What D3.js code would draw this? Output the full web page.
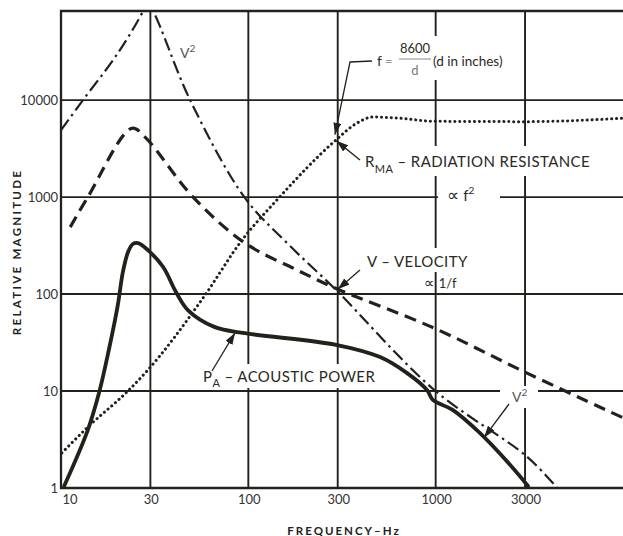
<!DOCTYPE html>
<html><head><meta charset="utf-8">
<script src="https://cdn.jsdelivr.net/npm/d3@7"></script>
<style>html,body{margin:0;padding:0;background:#fff;} svg{display:block;}</style>
</head><body><svg id="c" width="623" height="536"></svg>
<script>
// ---- data ----
const xTicks = [10, 30, 100, 300, 1000, 3000];
const xTickLabels = ["10", "30", "100", "300", "1000", "3000"];
const yTicks = [1, 10, 100, 1000, 10000];
const yTickLabels = ["1", "10", "100", "1000", "10000"];

// V^2 (dash-dot)
const v2Freq = [10, 13.1, 20, 27.4, 28.5, 31.0, 48.9, 95.9, 161, 294, 980, 3076, 4450];
const v2Val  = [4900, 10000, 30000, 82800, 103000, 82800, 10000, 980, 336, 110, 10.3, 2.1, 1];
// V - velocity (dashed)
const vFreq = [11.2, 13.9, 23.9, 28.1, 50.7, 95.9, 182, 298, 980, 3076, 10000];
const vVal  = [490, 1000, 5130, 4150, 1000, 336, 177, 113, 44.6, 15.3, 5.3];
// R_MA - radiation resistance (dotted)
const rFreq = [10.1, 13.9, 22.5, 28.1, 57.3, 92.6, 142, 293, 380, 463, 646, 980, 3110, 10000];
const rVal  = [2.3, 4.25, 9.8, 15.3, 91, 361, 933, 3860, 5800, 6700, 6500, 6050, 6000, 6500];
// P_A - acoustic power (solid)
const pFreq = [10.4, 13.9, 16.0, 18.0, 20.1, 21.4, 22.8, 24.2, 25.8, 29.1, 35.1, 41.1, 47.7, 66.3, 95.9, 298, 505, 704, 901, 966, 1232, 1720, 2500, 3110];
const pVal  = [1.05, 3.96, 9.75, 26.5, 77, 169, 271, 328, 335, 284, 190, 105, 68, 45.6, 39.5, 29.8, 22.4, 15.3, 10.2, 8.1, 6.4, 3.7, 1.73, 1.05];

// ---- layout ----
const mLeft = 61, mRight = 623, mTop = 11, mBottom = 488;
const svg = d3.select("#c");
const x = d3.scaleLog().domain([10, 10000]).range([mLeft, mRight]);
const y = d3.scaleLog().domain([1, 83000]).range([mBottom, mTop]);
const ink = "#22221c";
const font = "Lato, 'Open Sans', sans-serif";

const defs = svg.append("defs");
defs.append("clipPath").attr("id", "plot").append("rect")
  .attr("x", mLeft - 4).attr("y", mTop).attr("width", mRight - mLeft + 4).attr("height", mBottom - mTop + 3);
defs.append("marker").attr("id", "arr").attr("viewBox", "0 0 12 8")
  .attr("refX", 12).attr("refY", 4).attr("markerWidth", 12).attr("markerHeight", 8)
  .attr("markerUnits", "userSpaceOnUse").attr("orient", "auto")
  .append("path").attr("d", "M0,0 L12,4 L0,8 Z").attr("fill", ink);

// gridlines
const g = svg.append("g").attr("stroke", ink).attr("stroke-width", 1.9);
g.selectAll("line.v").data(xTicks.slice(1)).join("line")
  .attr("x1", d => x(d)).attr("x2", d => x(d)).attr("y1", mTop).attr("y2", mBottom);
g.selectAll("line.h").data(yTicks.slice(1)).join("line")
  .attr("x1", mLeft).attr("x2", mRight).attr("y1", d => y(d)).attr("y2", d => y(d));
// frame
svg.append("path").attr("d", `M${mRight},${mTop} H${mLeft} V${mBottom} H${mRight}`)
  .attr("fill", "none").attr("stroke", ink).attr("stroke-width", 2.3);

// white masks behind annotation text (gaps in grid)
const masks = [
  [372, 36, 152, 44],
  [362, 146, 230, 30],
  [438, 187, 62, 20],
  [364, 248, 106, 24],
  [200, 364, 180, 24],
  [500, 386, 38, 22]
];
svg.append("g").selectAll("rect").data(masks).join("rect")
  .attr("x", d => d[0]).attr("y", d => d[1]).attr("width", d => d[2]).attr("height", d => d[3])
  .attr("fill", "#fff");

// curves
const plot = svg.append("g").attr("clip-path", "url(#plot)");
function draw(fr, vals, curve, attrs) {
  const pts = fr.map((f, i) => [x(f), y(vals[i])]);
  const p = plot.append("path").attr("d", d3.line().curve(curve)(pts)).attr("fill", "none")
    .attr("stroke", ink).attr("stroke-linejoin", "round");
  Object.entries(attrs).forEach(([k, v]) => p.attr(k, v));
}
draw(rFreq, rVal, d3.curveMonotoneX, {"stroke-width": 3, "stroke-dasharray": "0.1 4.8", "stroke-linecap": "round"});
draw(v2Freq, v2Val, d3.curveCatmullRom.alpha(0.5), {"stroke-width": 2.2, "stroke-dasharray": "13 4.5 2.5 4.5"});
draw(vFreq, vVal, d3.curveCatmullRom.alpha(0.5), {"stroke-width": 3.2, "stroke-dasharray": "12 7"});
draw(pFreq, pVal, d3.curveCatmullRom.alpha(0.5), {"stroke-width": 3.8, "stroke-linecap": "round"});

// axis tick labels
const tl = svg.append("g").attr("font-family", font).attr("font-size", 13).attr("fill", "#333");
tl.selectAll("text.y").data(yTicks).join("text")
  .attr("x", mLeft - 3).attr("y", d => y(d) + 5).attr("text-anchor", "end")
  .text((d, i) => yTickLabels[i]);
tl.selectAll("text.x").data(xTicks).join("text")
  .attr("x", (d, i) => x(d) + (i === 0 ? 9 : 1)).attr("y", mBottom + 16).attr("text-anchor", "middle")
  .text((d, i) => xTickLabels[i]);

// axis titles
svg.append("text").attr("x", 344).attr("y", 535).attr("text-anchor", "middle")
  .attr("font-family", font).attr("font-weight", 700).attr("font-size", 11.5)
  .attr("letter-spacing", 2).attr("fill", ink).text("FREQUENCY–Hz");
svg.append("text").attr("transform", "translate(21,252) rotate(-90)").attr("text-anchor", "middle")
  .attr("font-family", font).attr("font-weight", 700).attr("font-size", 11.5)
  .attr("letter-spacing", 2.3).attr("fill", ink).text("RELATIVE MAGNITUDE");

// annotations
const ann = svg.append("g").attr("font-family", font).attr("fill", "#2a2a25");
function sup(x0, y0, base, s, size, col) {
  const el = ann.append("text").attr("x", x0).attr("y", y0).attr("font-size", size).attr("fill", col);
  el.append("tspan").text(base);
  el.append("tspan").attr("dy", -6).attr("font-size", size * 0.72).text(s);
  return el;
}
sup(180, 58, "V", "2", 14, "#555");
sup(512, 402, "V", "2", 14, "#555");

// formula
ann.append("text").attr("x", 377).attr("y", 66).attr("font-size", 14).text("f");
ann.append("text").attr("x", 385).attr("y", 66).attr("font-size", 13).attr("fill", "#999").text("=");
ann.append("text").attr("x", 415).attr("y", 53).attr("font-size", 13).attr("text-anchor", "middle").text("8600");
ann.append("line").attr("x1", 399).attr("x2", 431).attr("y1", 59).attr("y2", 59).attr("stroke", "#888").attr("stroke-width", 1);
ann.append("text").attr("x", 415).attr("y", 75).attr("font-size", 13).attr("text-anchor", "middle").attr("fill", "#777").text("d");
ann.append("text").attr("x", 433).attr("y", 66).attr("font-size", 13.5).text("(d in inches)");

// R_MA label
const rl = ann.append("text").attr("x", 365).attr("y", 167).attr("font-size", 15).attr("letter-spacing", 0.4);
rl.append("tspan").text("R");
rl.append("tspan").attr("dy", 6).attr("font-size", 11).text("MA");
rl.append("tspan").attr("dy", -6).text(" – RADIATION RESISTANCE");
const pr = ann.append("text").attr("x", 447).attr("y", 201).attr("font-size", 15);
pr.append("tspan").attr("font-family", "'DejaVu Sans', sans-serif").attr("font-size", 17).text("∝");
pr.append("tspan").attr("dx", 4).text("f");
pr.append("tspan").attr("dy", -7).attr("font-size", 10).text("2");

ann.append("text").attr("x", 367).attr("y", 267).attr("font-size", 15).attr("letter-spacing", 0.4).text("V – VELOCITY");
const pv = ann.append("text").attr("x", 424).attr("y", 288).attr("font-size", 13);
pv.append("tspan").attr("font-family", "'DejaVu Sans', sans-serif").attr("font-size", 15).text("∝");
pv.append("tspan").attr("dx", 4).text("1/f");

const pa = ann.append("text").attr("x", 203).attr("y", 382).attr("font-size", 15).attr("letter-spacing", 0.4);
pa.append("tspan").text("P");
pa.append("tspan").attr("dy", 5).attr("font-size", 11).text("A");
pa.append("tspan").attr("dy", -5).text(" – ACOUSTIC POWER");

// arrows: tip anchored on data via scales, tail as pixel offset
const arrows = [
  {pts: [[372, 61], [350, 62]], f: 290, v: 4000, dx: 0, dy: -4},
  {pts: [[360, 160]], f: 295, v: 3800, dx: 0, dy: 0},
  {pts: [[360, 270]], f: 300, v: 112, dx: 0, dy: 0},
  {pts: [[212, 371]], f: 85, v: 40, dx: 0, dy: 0},
  {pts: [[509, 404]], f: 1950, v: 3.3, dx: -6, dy: 0}
];
arrows.forEach(a => {
  const tip = [x(a.f) + a.dx, y(a.v) + a.dy];
  ann.append("path").attr("d", d3.line()(a.pts.concat([tip])))
    .attr("fill", "none").attr("stroke", ink).attr("stroke-width", 1.3)
    .attr("marker-end", "url(#arr)");
});
</script></body></html>
